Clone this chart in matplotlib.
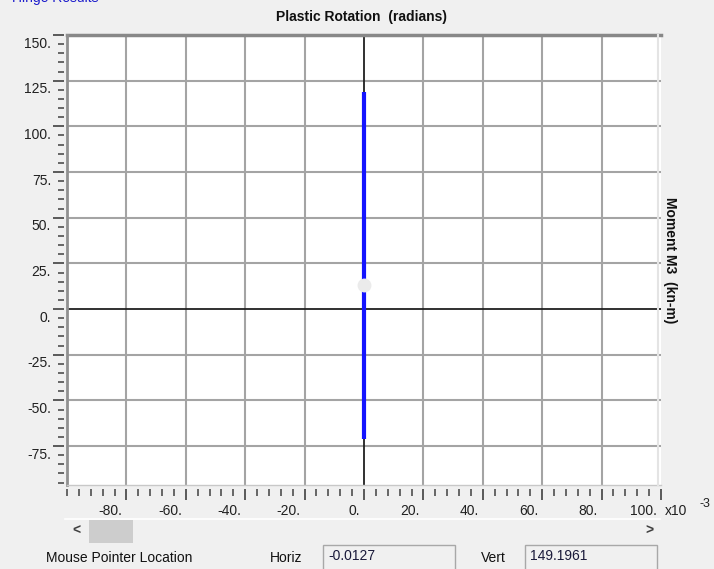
import matplotlib
matplotlib.use("Agg")
import matplotlib.pyplot as plt
from matplotlib.patches import Rectangle
from matplotlib.transforms import ScaledTranslation
from matplotlib.lines import Line2D

plt.rcParams['font.family'] = ['Liberation Sans', 'DejaVu Sans']

# ---- data ----
rotation_rad = [0.0, 0.0]          # plastic rotation (radians)
moment_knm = [-71.0, 119.0]        # moment M3 (kn-m)
point_rad = [0.0]
point_moment = [13.0]
x_scale = 1e3                      # axis shown in x10^-3
x_major = [-80, -60, -40, -20, 0, 20, 40, 60, 80, 100]
x_labels = ['-80.', '-60.', '-40.', '-20.', '0.', '20.', '40.', '60.', '80.', '100.']
y_major = [-75, -50, -25, 0, 25, 50, 75, 100, 125, 150]
y_labels = ['-75.', '-50.', '-25.', '0.', '25.', '50.', '75.', '100.', '125.', '150.']
x_grid = [-80, -60, -40, -20, 20, 40, 60, 80]
y_grid = [-75, -50, -25, 25, 50, 75, 100, 125]
title = 'Plastic Rotation  (radians)'
ylabel = 'Moment M3  (kn-m)'
horiz_val = '-0.0127'
vert_val = '149.1961'

W, H = 714, 569
BG = '#f0f0f0'
fig = plt.figure(figsize=(W / 100, H / 100), dpi=100, facecolor=BG)

def fx(x):
    return x / W

def fy(y):
    return 1 - y / H

L, R, T, B = 67, 661, 35, 485
ax = fig.add_axes([fx(L), fy(B), (R - L) / W, (B - T) / H])
ax.set_facecolor('white')
ax.set_xlim(-100, 100)
ax.set_ylim(-96.3, 150)

# grid
for g in x_grid:
    ax.axvline(g, color='#a4a4a4', lw=1.5, zorder=1)
for g in y_grid:
    ax.axhline(g, color='#a4a4a4', lw=1.5, zorder=1)
ax.axvline(0, color='#202020', lw=1.3, zorder=2)
ax.axhline(0, color='#202020', lw=1.3, zorder=2)

# data
ax.plot([v * x_scale for v in rotation_rad], moment_knm, color='#1414ff', lw=3.0,
        solid_capstyle='butt', zorder=3)
ax.plot([v * x_scale for v in point_rad], point_moment, 'o', color='#ebebeb',
        markersize=10, markeredgewidth=0, zorder=4)

# frame
for s in ax.spines.values():
    s.set_color('none')
ax.spines['bottom'].set_position(('outward', 3))
ax.spines['left'].set_position(('outward', 2))
ax.add_line(Line2D([0, 1], [1, 1], transform=ax.transAxes, color='#888888', lw=2.5, clip_on=False, zorder=5))
ax.add_line(Line2D([0, 0], [0, 1], transform=ax.transAxes, color='#909090', lw=2.0, clip_on=False, zorder=5))
ax.add_line(Line2D([0, 1], [0, 0], transform=ax.transAxes, color='#c8c8c8', lw=1.0, clip_on=False, zorder=5))
ax.add_line(Line2D([0.995, 0.995], [0, 1], transform=ax.transAxes, color='#e4e4e4', lw=1.5, clip_on=False, zorder=5))

# ticks
ax.set_xticks(x_major, x_labels)
ax.set_xticks([v for v in range(-100, 101, 4)], minor=True)
ax.set_yticks(y_major, y_labels)
ax.set_yticks([v for v in range(-95, 151, 5)], minor=True)
ax.tick_params(axis='both', which='major', direction='out', color='#404040', width=1.2,
               labelsize=10, labelcolor='#202020')
ax.tick_params(axis='x', which='major', length=8, pad=3)
ax.tick_params(axis='x', which='minor', length=5, width=1.1, color='#404040')
ax.tick_params(axis='y', which='major', length=8, pad=1.5)
ax.tick_params(axis='y', which='minor', length=4.3, width=1.1, color='#404040')
for lab in ax.get_xticklabels():
    lab.set_horizontalalignment('right')
    lab.set_transform(lab.get_transform() + ScaledTranslation(-0.04, 0, fig.dpi_scale_trans))
for lab in ax.get_yticklabels():
    lab.set_transform(lab.get_transform() + ScaledTranslation(0, -0.07, fig.dpi_scale_trans))

# titles
fig.text(fx(362), fy(17), title, ha='center', va='center', fontsize=10, fontweight='bold', color='#111111')
fig.text(fx(670), fy(260), ylabel, ha='center', va='center', rotation=270, fontsize=10,
         fontweight='bold', color='#111111')
fig.text(fx(12), fy(2), 'Hinge Results', ha='left', va='baseline', fontsize=10, color='#1c1ccc')
fig.text(fx(665), fy(511), 'x10', ha='left', va='center', fontsize=10, color='#202020')
fig.text(fx(699), fy(504), '-3', ha='left', va='center', fontsize=9, color='#202020')

# scroll bar
fig.add_artist(Line2D([fx(65), fx(660)], [fy(519), fy(519)], color='white', lw=1.2))
fig.patches.append(Rectangle((fx(89), fy(543)), fx(133) - fx(89), fy(520) - fy(543),
                             transform=fig.transFigure, facecolor='#cdcdcd', edgecolor='none'))
fig.text(fx(76), fy(531), '<', ha='center', va='center', fontsize=10, fontweight='bold', color='#404040')
fig.text(fx(649), fy(531), '>', ha='center', va='center', fontsize=10, fontweight='bold', color='#404040')

# status row
fig.text(fx(46), fy(558), 'Mouse Pointer Location', ha='left', va='center', fontsize=10, color='#111111')
fig.text(fx(270), fy(558), 'Horiz', ha='left', va='center', fontsize=10, color='#111111')
fig.text(fx(481), fy(558), 'Vert', ha='left', va='center', fontsize=10, color='#111111')
for (x0, x1, val) in [(323, 455, horiz_val), (525, 657, vert_val)]:
    fig.patches.append(Rectangle((fx(x0), fy(575)), fx(x1) - fx(x0), fy(545) - fy(575),
                                 transform=fig.transFigure, facecolor=BG, edgecolor='#a8a8a8', lw=1.0))
    fig.text(fx(x0 + 5), fy(556), val, ha='left', va='center', fontsize=10, color='#1a1a3a')

fig.savefig('out.png', dpi=100, facecolor=BG)
